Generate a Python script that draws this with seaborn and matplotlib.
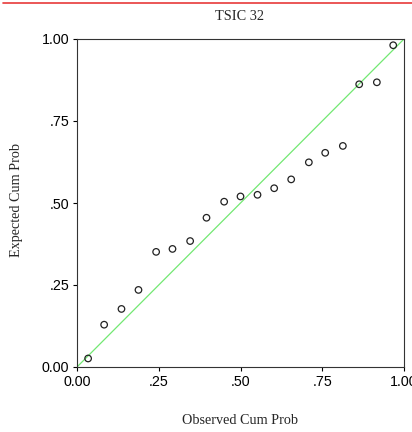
import matplotlib
matplotlib.use("Agg")
import matplotlib.pyplot as plt
import seaborn as sns
import pandas as pd
from matplotlib.lines import Line2D

title = "TSIC 32"
x_label = "Observed Cum Prob"
y_label = "Expected Cum Prob"
observed = [0.034, 0.083, 0.136, 0.188, 0.242, 0.292, 0.346, 0.396, 0.450, 0.500,
            0.552, 0.603, 0.655, 0.709, 0.759, 0.813, 0.863, 0.917, 0.967]
expected = [0.026, 0.129, 0.177, 0.235, 0.351, 0.360, 0.384, 0.455, 0.504, 0.520,
            0.525, 0.545, 0.572, 0.624, 0.653, 0.674, 0.862, 0.868, 0.981]
ref_line = [0.0, 1.0]
tick_vals = [0.0, 0.25, 0.5, 0.75, 1.0]
tick_labels = ["0.00", ".25", ".50", ".75", "1.00"]

df = pd.DataFrame({"obs": observed, "exp": expected})

sns.set_theme(style="ticks")
plt.rcParams["font.family"] = ["Liberation Sans", "DejaVu Sans"]

W, H = 412, 432
fig = plt.figure(figsize=(W / 100, H / 100), dpi=100)
ax = fig.add_axes([77 / W, 1 - 367 / H, 327 / W, 328 / H])

sns.lineplot(x=ref_line, y=ref_line, ax=ax, color="#72e872", linewidth=0.9)
sns.scatterplot(data=df, x="obs", y="exp", ax=ax, marker="o", s=22,
                facecolor="none", edgecolor="#222222", linewidth=0.9, zorder=3)

ax.set_xlim(0, 1)
ax.set_ylim(0, 1)
ax.set_xticks(tick_vals)
ax.set_xticklabels(tick_labels)
ax.set_yticks(tick_vals)
ax.set_yticklabels(tick_labels)
ax.tick_params(direction="out", length=3, width=0.8, labelsize=10.3, colors="black", pad=2.5)
ax.set_xlabel("")
ax.set_ylabel("")
for s in ax.spines.values():
    s.set_visible(True)
    s.set_linewidth(0.8)
    s.set_color("#333333")

serif = ["Liberation Serif", "DejaVu Serif"]
fig.text(240 / W, 1 - 16 / H, title, ha="center", va="center", family=serif, fontsize=10.3)
fig.text(240 / W, 1 - 420 / H, x_label, ha="center", va="center", family=serif, fontsize=10.2)
fig.text(17 / W, 1 - 200 / H, y_label, ha="center", va="center", rotation=90,
         family=serif, fontsize=10.2)

fig.add_artist(Line2D([3 / W, 1.0], [1 - 2.5 / H, 1 - 2.5 / H], color="#e83a3a",
                      linewidth=1.2, transform=fig.transFigure))

fig.savefig("out.png", dpi=100, facecolor="white")
